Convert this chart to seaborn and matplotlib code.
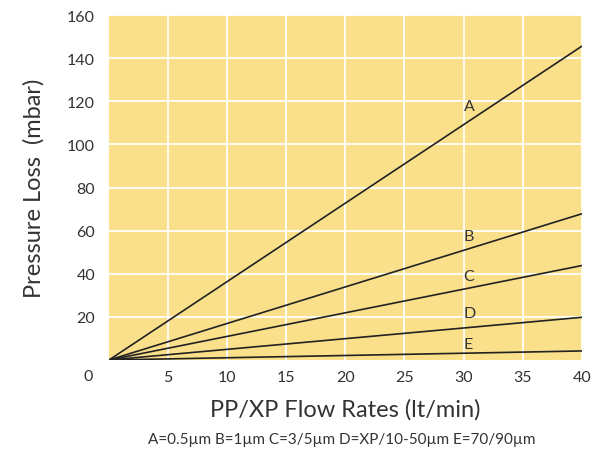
import matplotlib
matplotlib.use("Agg")
import matplotlib.pyplot as plt
import seaborn as sns
import pandas as pd

series = ["A", "B", "C", "D", "E"]
flow = [0, 40]
loss_A = [0, 145.5]
loss_B = [0, 67.8]
loss_C = [0, 43.8]
loss_D = [0, 19.8]
loss_E = [0, 4.2]
label_y = [118, 57.5, 39, 22, 7.5]
x_ticks = [5, 10, 15, 20, 25, 30, 35, 40]
y_ticks = [20, 40, 60, 80, 100, 120, 140, 160]
caption = "A=0.5µm B=1µm C=3/5µm D=XP/10-50µm E=70/90µm"

rows = []
for name, vals in zip(series, [loss_A, loss_B, loss_C, loss_D, loss_E]):
    for x, y in zip(flow, vals):
        rows.append({"flow": x, "loss": y, "series": name})
df = pd.DataFrame(rows)

sns.set_theme(style="white")
plt.rcParams["font.family"] = ["Lato", "DejaVu Sans"]
txt = "#333333"

fig = plt.figure(figsize=(5.93, 4.52), dpi=100)
ax = fig.add_axes([0.1838, 0.2013, 0.7972, 0.7633])
ax.set_facecolor("#FAE08B")

sns.lineplot(data=df, x="flow", y="loss", units="series", estimator=None,
             color="#222222", linewidth=1.2, ax=ax, legend=False)

for name, ly in zip(series, label_y):
    ax.text(30.0, ly, name, fontsize=11.5, color=txt, ha="left", va="center")

ax.set_xlim(0, 40)
ax.set_ylim(0, 160)
ax.set_xticks(x_ticks)
ax.set_yticks(y_ticks)
ax.grid(True, color="white", linewidth=1.3)
ax.set_axisbelow(True)
for s in ax.spines.values():
    s.set_visible(False)
ax.tick_params(axis="both", length=0, labelsize=11.5, labelcolor=txt, pad=7)
ax.tick_params(axis="y", pad=10)
ax.text(-0.045, -0.045, "0", transform=ax.transAxes, fontsize=11.5, color=txt,
        ha="center", va="center")

ax.set_xlabel("PP/XP Flow Rates (lt/min)", fontsize=17, color=txt, labelpad=10)
ax.set_ylabel("Pressure Loss  (mbar)", fontsize=17, color=txt, labelpad=16)
fig.text(342 / 593, 1 - 440 / 452, caption, fontsize=11, color=txt,
         ha="center", va="center")

fig.savefig("out.png", dpi=100)
